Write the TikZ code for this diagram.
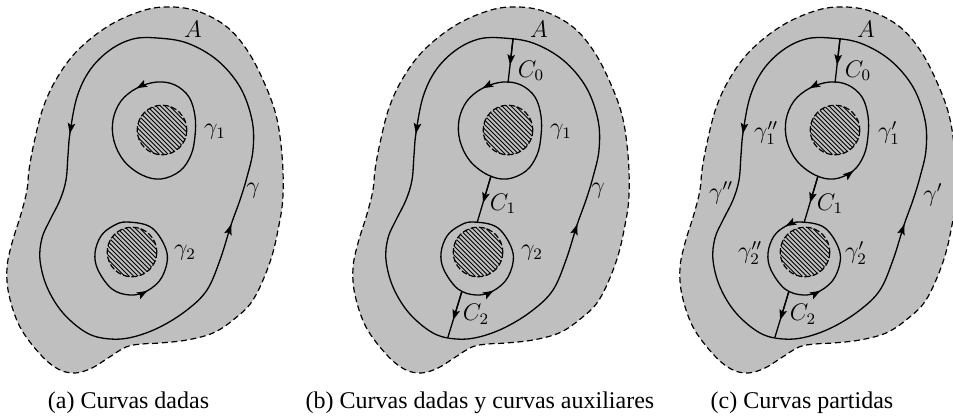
\documentclass[tikz,border=0pt,12pt]{standalone}
\usepackage{fontspec}
\setmainfont{Liberation Serif}
\usetikzlibrary{arrows.meta,calc}

\tikzset{
  region/.style={fill=black!25, draw=black, line width=0.6pt, dash pattern=on 3pt off 1.8pt},
  curve/.style={draw=black, line width=0.65pt},
  hatchline/.style={line width=0.5pt},
  diskedge/.style={line width=0.6pt, dash pattern=on 3pt off 1.2pt},
  arr/.style={-{Stealth[length=5.2pt,width=3.8pt,inset=1pt]}, line width=0.65pt},
  lab/.style={inner sep=0pt},
  captxt/.style={anchor=base, inner sep=0pt}
}

\newcommand\arrowat[3]{\draw[arr] ($(#2)-0.01*(#3)+0.01*(#1)$) -- ($(#2)+0.01*(#3)-0.01*(#1)$);}

\newcommand\hatchdisk[2]{%
  \begin{scope}
    \clip (#1,#2) circle (24.8);
    \foreach \k in {-76.5,-72,...,76.5} {\draw[hatchline] ({#1+\k-30},{#2-30}) -- ({#1+\k+30},{#2+30});}
  \end{scope}
  \draw[diskedge] (#1,#2) circle (24.8);
}

\newcommand\basepanel{%
  \path[region] plot[smooth cycle, tension=0.6] coordinates {
    (173,7) (200,12) (227,27) (247,50) (263,80) (276,115) (282,155) (283,195)
    (279,225) (270,262) (253,300) (233,320) (213,333) (187,340) (160,343)
    (142,344) (126,347) (108,358) (92,368) (75,373) (58,369) (40,354) (20,327)
    (9,295) (7,268) (12,243) (21,214) (27,190) (29,170) (34,143) (43,108)
    (57,78) (78,50) (110,25) (145,10)};
  \hatchdisk{162}{130}
  \hatchdisk{132}{252}
  \draw[curve] plot[smooth cycle, tension=0.6] coordinates {
    (157,38) (187,43) (217,60) (240,87) (252,120) (253,150) (247,177) (240,200)
    (231,225) (220,260) (207,290) (187,310) (160,327) (133,337) (110,339)
    (87,333) (63,313) (47,287) (40,260) (42,238) (50,220) (60,200) (66,180)
    (68,155) (70,133) (77,97) (90,70) (110,50) (133,39)};
  \draw[curve] plot[smooth cycle, tension=0.6] coordinates {
    (157,82) (175,85) (189,97) (195,116) (195,136) (191,155) (180,171)
    (161,179) (142,175) (124,161) (114,141) (113,120) (121,101) (137,88)};
  \draw[curve] plot[smooth cycle, tension=0.6] coordinates {
    (127,222) (152,228) (167,253) (162,277) (147,291) (130,295) (112,289)
    (98,270) (95,253) (101,236) (113,226)};
  \arrowat{77,97}{70,133}{68,155}
  \arrowat{220,260}{231,225}{240,200}
  \arrowat{157,82}{137,88}{121,101}
  \arrowat{130,295}{147,291}{162,277}
  \node[lab] (labA) at (193,29) {$A$};
}

\newcommand\auxpaths{%
  \coordinate (c0s) at (167,39);  \coordinate (c0e) at (162,83);
  \coordinate (c1s) at (145,176); \coordinate (c1e) at (131,223);
  \coordinate (c2s) at (116,291); \coordinate (c2e) at (102,337);
  \draw[curve] (c0s) -- (c0e);
  \draw[curve] (c1s) -- (c1e);
  \draw[curve] (c2s) -- (c2e);
  \draw[arr] (c0s) -- ($(c0s)!0.59!(c0e)$);
  \draw[arr] (c1s) -- ($(c1s)!0.57!(c1e)$);
  \draw[arr] (c2s) -- ($(c2s)!0.63!(c2e)$);
  \node[lab] (lC0) at (185,71) {$C_0$};
  \node[lab] (lC1) at (157,204) {$C_1$};
  \node[lab] (lC2) at (130,314) {$C_2$};
}

\begin{document}
\begin{tikzpicture}[x=0.5pt,y=-0.5pt]
\useasboundingbox (0,0) rectangle (953,417);
\clip (0,0) rectangle (953,417);

% (a)
\begin{scope}
  \basepanel
  \node[lab] (ag1) at (215,132) {$\gamma_1$};
  \node[lab] (ag)  at (253,191) {$\gamma$};
  \node[lab] (ag2) at (185,253) {$\gamma_2$};
\end{scope}

% (b)
\begin{scope}[shift={(346,0)}]
  \basepanel
  \auxpaths
  \node[lab] (bg1) at (215,132) {$\gamma_1$};
  \node[lab] (bg)  at (252,191) {$\gamma$};
  \node[lab] (bg2) at (186,253) {$\gamma_2$};
\end{scope}

% (c)
\begin{scope}[shift={(673,0)}]
  \basepanel
  \auxpaths
  \arrowat{161,179}{180,171}{191,155}
  \arrowat{127,222}{113,226}{101,236}
  \node[lab] (cg1b) at (93,133)  {$\gamma_1''$};
  \node[lab] (cg1a) at (216,133) {$\gamma_1'$};
  \node[lab] (cg2b) at (77,253)  {$\gamma_2''$};
  \node[lab] (cg2a) at (183,253) {$\gamma_2'$};
  \node[lab] (cgb)  at (48,193)  {$\gamma''$};
  \node[lab] (cga)  at (260,195) {$\gamma'$};
\end{scope}

\node[captxt] (capa) at (128.5,408) {(a) Curvas dadas};
\node[captxt] (capb) at (480,408) {(b) Curvas dadas y curvas auxiliares};
\node[captxt] (capc) at (802,408) {(c) Curvas partidas};
\end{tikzpicture}
\end{document}
